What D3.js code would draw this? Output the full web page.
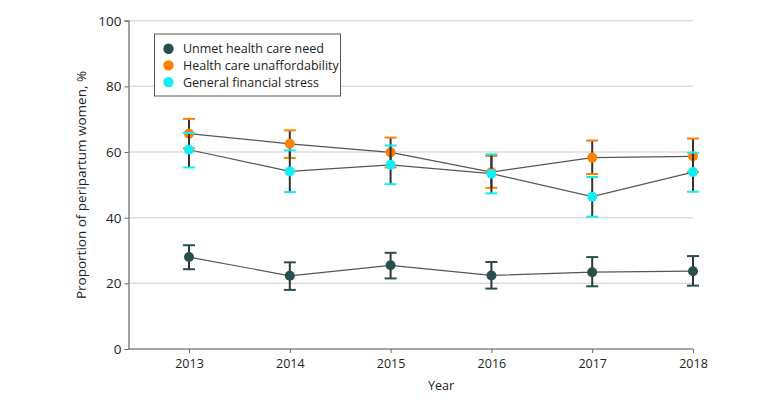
<!DOCTYPE html>
<html><head><meta charset="utf-8">
<script src="https://cdn.jsdelivr.net/npm/d3@7"></script>
<style>body{margin:0;background:#fff}svg{display:block}text{font-family:"Open Sans","Noto Sans",sans-serif}</style>
</head><body>
<svg id="c" width="783" height="404"></svg>
<script>
const years = [2013, 2014, 2015, 2016, 2017, 2018];
const yTicks = [0, 20, 40, 60, 80, 100];
const seriesNames = ["Unmet health care need", "Health care unaffordability", "General financial stress"];
const seriesColors = ["#264f4e", "#ff7f00", "#12ecf4"];
const unmetVal = [28.0, 22.3, 25.5, 22.4, 23.4, 23.7];
const unmetLo  = [24.3, 18.0, 21.5, 18.4, 19.1, 19.3];
const unmetHi  = [31.6, 26.4, 29.3, 26.5, 28.0, 28.3];
const unaffVal = [65.6, 62.5, 59.9, 53.9, 58.3, 58.7];
const unaffLo  = [61.1, 58.2, 55.3, 49.1, 53.3, 53.9];
const unaffHi  = [70.1, 66.6, 64.4, 58.8, 63.5, 64.1];
const finVal   = [60.7, 54.1, 56.1, 53.4, 46.4, 53.9];
const finLo    = [55.3, 47.8, 50.2, 47.4, 40.3, 47.9];
const finHi    = [65.8, 60.5, 62.0, 59.3, 52.4, 59.8];

const series = [
  {vals: unmetVal, lo: unmetLo, hi: unmetHi},
  {vals: unaffVal, lo: unaffLo, hi: unaffHi},
  {vals: finVal, lo: finLo, hi: finHi}
];

const svg = d3.select("#c");
const x = d3.scaleLinear().domain([2013, 2018]).range([189, 693]);
const y = d3.scaleLinear().domain([0, 100]).range([349, 20.7]);
const x0 = 128.5, x1 = 693;

// gridlines
svg.append("g").selectAll("line").data(yTicks.filter(d => d > 0)).join("line")
  .attr("x1", x0).attr("x2", x1).attr("y1", d => y(d)).attr("y2", d => y(d))
  .attr("stroke", "#dcdcdc").attr("stroke-width", 1.5);

// y axis
const ya = svg.append("g").attr("transform", `translate(${x0},0)`)
  .call(d3.axisLeft(y).tickValues(yTicks).tickSize(4).tickPadding(3));
ya.select(".domain").attr("stroke", "#666").attr("stroke-width", 1.2);
ya.selectAll(".tick line").attr("stroke", "#666");
ya.selectAll("text").attr("font-size", 13.5).attr("fill", "#222");

// x axis
const xa = svg.append("g").attr("transform", `translate(0,${y(0)})`)
  .call(d3.axisBottom(x).tickValues(years).tickFormat(d3.format("d")).tickSize(4).tickPadding(6).tickSizeOuter(0));
xa.select(".domain").attr("stroke", "#888").attr("stroke-width", 1.5).attr("d", `M${x0},0H${x1}`);
xa.selectAll(".tick line").attr("stroke", "#666");
xa.selectAll("text").attr("font-size", 12.5).attr("fill", "#222");

svg.append("text").attr("x", (189 + 693) / 2).attr("y", 390).attr("text-anchor", "middle")
  .attr("font-size", 12.5).attr("fill", "#222").text("Year");
svg.append("text").attr("transform", `translate(86,185) rotate(-90)`).attr("text-anchor", "middle")
  .attr("font-size", 13.5).attr("fill", "#222").text("Proportion of peripartum women, %");

// lines
const line = d3.line().x((d, i) => x(years[i])).y(d => y(d));
series.forEach(s => {
  svg.append("path").attr("d", line(s.vals)).attr("fill", "none").attr("stroke", "#555").attr("stroke-width", 1.2);
});

// error bars and markers
series.forEach((s, si) => {
  const g = svg.append("g");
  years.forEach((yr, i) => {
    const cx = x(yr);
    g.append("line").attr("x1", cx).attr("x2", cx).attr("y1", y(s.lo[i])).attr("y2", y(s.hi[i]))
      .attr("stroke", "#333").attr("stroke-width", 2);
    [s.lo[i], s.hi[i]].forEach(v => {
      g.append("line").attr("x1", cx - 6).attr("x2", cx + 6).attr("y1", y(v)).attr("y2", y(v))
        .attr("stroke", seriesColors[si]).attr("stroke-width", 2);
    });
    g.append("circle").attr("cx", cx).attr("cy", y(s.vals[i])).attr("r", 5).attr("fill", seriesColors[si]);
  });
});

// legend
const lg = svg.append("g");
lg.append("rect").attr("x", 154.5).attr("y", 34).attr("width", 186).attr("height", 62)
  .attr("fill", "#fff").attr("stroke", "#555").attr("stroke-width", 1);
seriesNames.forEach((n, i) => {
  const cy = 48.7 + i * 16.7;
  lg.append("circle").attr("cx", 168.5).attr("cy", cy).attr("r", 5.2).attr("fill", seriesColors[i]);
  lg.append("text").attr("x", 183).attr("y", cy + 4.5).attr("font-size", 12.5).attr("fill", "#222").text(n);
});
</script>
</body></html>
